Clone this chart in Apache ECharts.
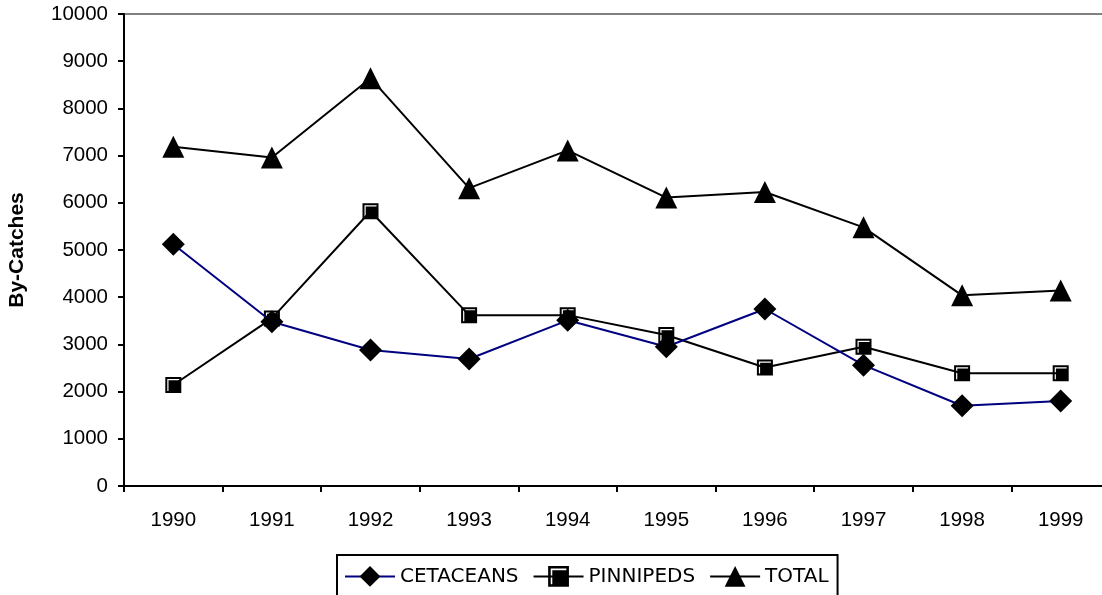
<!DOCTYPE html>
<html>
<head>
<meta charset="utf-8">
<script src="https://cdn.jsdelivr.net/npm/echarts@6/dist/echarts.min.js"></script>
<style>
html,body{margin:0;padding:0;background:#fff;}
#chart{width:1102px;height:595px;}
</style>
</head>
<body>
<div id="chart"></div>
<script>
const years = ['1990','1991','1992','1993','1994','1995','1996','1997','1998','1999'];
const cetaceans = [5120, 3480, 2880, 2690, 3510, 2950, 3750, 2560, 1700, 1800];
const pinnipeds = [2140, 3550, 5820, 3620, 3620, 3200, 2510, 2950, 2390, 2390];
const total = [7190, 6960, 8640, 6310, 7110, 6110, 6230, 5480, 4040, 4140];
const yTicks = { min: 0, max: 10000, interval: 1000 };
const seriesNames = ['CETACEANS', 'PINNIPEDS', 'TOTAL'];

const squareSymbol = 'path://M0,0L16,0L16,16L0,16Z M2,2L2,14L14,14L14,2Z M3.2,3.2L14,3.2L14,14L3.2,14Z';

const chart = echarts.init(document.getElementById('chart'), null, { renderer: 'canvas' });
chart.setOption({
  animation: false,
  backgroundColor: '#ffffff',
  grid: {
    left: 124, top: 14, right: -8, bottom: 109,
    containLabel: false,
    outerBoundsMode: 'none',
    show: true, borderColor: '#808080', borderWidth: 2, backgroundColor: 'transparent'
  },
  legend: {
    data: seriesNames,
    left: 337, top: 555,
    orient: 'horizontal',
    borderColor: '#000', borderWidth: 2,
    padding: [11, 9, 30, 7],
    itemWidth: 50, itemHeight: 26, itemGap: 14,
    textStyle: { fontFamily: 'DejaVu Sans', fontSize: 20, color: '#000', lineHeight: 20, padding: [0, 0, 0, 0] }
  },
  xAxis: {
    type: 'category',
    data: years,
    boundaryGap: true,
    axisLine: { lineStyle: { color: '#000', width: 2 } },
    axisTick: { show: true, length: 6, lineStyle: { color: '#000', width: 2 }, alignWithLabel: false },
    axisLabel: { fontFamily: 'Liberation Sans', fontSize: 20.5, color: '#000', margin: 24 },
    splitLine: { show: false }
  },
  yAxis: {
    type: 'value',
    min: yTicks.min, max: yTicks.max, interval: yTicks.interval,
    name: 'By-Catches',
    nameLocation: 'middle',
    nameRotate: 90,
    nameGap: 96,
    nameTextStyle: { fontFamily: 'Liberation Sans', fontSize: 21, fontWeight: 'bold', color: '#000' },
    axisLine: { show: true, lineStyle: { color: '#000', width: 2 } },
    axisTick: { show: true, length: 6, lineStyle: { color: '#000', width: 2 } },
    axisLabel: { fontFamily: 'Liberation Sans', fontSize: 20.5, color: '#000', margin: 16,
      formatter: function (v) { return String(v); } },
    splitLine: { show: false }
  },
  series: [
    {
      name: seriesNames[0], type: 'line', data: cetaceans,
      symbol: 'diamond', symbolSize: 23,
      lineStyle: { color: '#000080', width: 2 },
      itemStyle: { color: '#000' },
      z: 3
    },
    {
      name: seriesNames[1], type: 'line', data: pinnipeds,
      symbol: squareSymbol, symbolSize: 16, symbolKeepAspect: true,
      lineStyle: { color: '#000', width: 2 },
      itemStyle: { color: '#000' },
      z: 2
    },
    {
      name: seriesNames[2], type: 'line', data: total,
      symbol: 'triangle', symbolSize: 22,
      lineStyle: { color: '#000', width: 2 },
      itemStyle: { color: '#000' },
      z: 2
    }
  ]
});
</script>
</body>
</html>
